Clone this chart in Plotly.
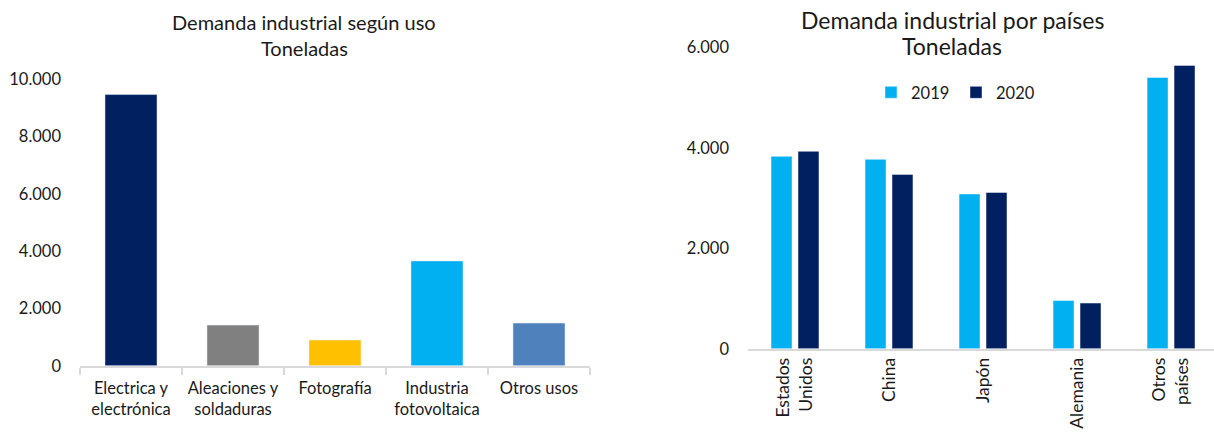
import plotly.graph_objects as go

# ---- Data ----
uso_categories = ["Electrica y<br>electrónica", "Aleaciones y<br>soldaduras", "Fotografía",
                  "Industria<br>fotovoltaica", "Otros usos"]
uso_values = [9470, 1420, 900, 3660, 1490]
uso_colors = ["#002060", "#808080", "#FFC000", "#00B0F0", "#4F81BD"]

paises_categories = ["Estados<br>Unidos", "China", "Japón", "Alemania", "Otros<br>países"]
paises_2019 = [3830, 3770, 3080, 960, 5400]
paises_2020 = [3930, 3470, 3110, 910, 5640]
series_names = ["2019", "2020"]
series_colors = ["#00B0F0", "#002060"]

FONT = "Lato"
TXT = "#1a1a1a"
W, H = 1214, 438


def fy(px):
    """pixel from top -> paper fraction"""
    return 1 - px / H


fig = go.Figure()

fig.add_trace(go.Bar(
    x=uso_categories, y=uso_values, marker_color=uso_colors,
    width=0.51, offset=-0.255, showlegend=False,
    xaxis="x", yaxis="y",
))

fig.add_trace(go.Bar(
    x=paises_categories, y=paises_2019, name=series_names[0],
    marker=dict(color=series_colors[0], line=dict(color="rgba(255,255,255,0.45)", width=1)),
    width=0.223, offset=-0.255, xaxis="x2", yaxis="y2",
))
fig.add_trace(go.Bar(
    x=paises_categories, y=paises_2020, name=series_names[1],
    marker=dict(color=series_colors[1], line=dict(color="rgba(255,255,255,0.45)", width=1)),
    width=0.223, offset=0.032, xaxis="x2", yaxis="y2",
))

axis_line = "#d9d9d9"

fig.update_layout(
    width=W, height=H, autosize=False,
    margin=dict(l=0, r=0, t=0, b=0),
    paper_bgcolor="white", plot_bgcolor="white",
    separators=",.",
    barmode="overlay",
    hovermode=False,
    font=dict(family=FONT, size=16.5, color=TXT),
    showlegend=True,
    legend=dict(orientation="h", x=871 / W, xanchor="left", y=fy(86.5), yanchor="middle",
                font=dict(family=FONT, size=16.5, color=TXT), entrywidth=40,
                bgcolor="rgba(0,0,0,0)", itemclick=False),
    xaxis=dict(domain=[80 / W, 590 / W], type="category", showgrid=False,
               showline=True, linecolor=axis_line, linewidth=2,
               ticks="outside", tickson="boundaries", ticklen=7, tickcolor=axis_line, tickwidth=2,
               ticklabelstandoff=6,
               tickfont=dict(family=FONT, size=16.5, color=TXT), range=[-0.5, 4.5]),
    yaxis=dict(domain=[fy(372.8), fy(72.7)], range=[0, 10000], dtick=2000, tickformat=",",
               showgrid=False, zeroline=False, showline=False, ticks="",
               ticklabelstandoff=18,
               tickfont=dict(family=FONT, size=16.5, color=TXT)),
    xaxis2=dict(domain=[748 / W, 1.0], type="category", showgrid=False,
                showline=True, linecolor=axis_line, linewidth=2, ticks="",
                tickangle=-90, range=[-0.5, 4.457],
                tickfont=dict(family=FONT, size=17.5, color=TXT), anchor="y2"),
    yaxis2=dict(domain=[fy(355), fy(39.1)], range=[0, 6000], dtick=2000, tickformat=",",
                showgrid=False, zeroline=False, showline=False, ticks="",
                ticklabelstandoff=18, anchor="x2",
                tickfont=dict(family=FONT, size=16.5, color=TXT)),
    annotations=[
        dict(text="Demanda industrial según uso", x=304 / W, y=fy(13), xref="paper", yref="paper",
             xanchor="center", yanchor="middle", showarrow=False, font=dict(family=FONT, size=20, color=TXT)),
        dict(text="Toneladas", x=304 / W, y=fy(39.5), xref="paper", yref="paper",
             xanchor="center", yanchor="middle", showarrow=False, font=dict(family=FONT, size=20, color=TXT)),
        dict(text="Demanda industrial por países", x=952 / W, y=fy(10), xref="paper", yref="paper",
             xanchor="center", yanchor="middle", showarrow=False, font=dict(family=FONT, size=23, color=TXT)),
        dict(text="Toneladas", x=952 / W, y=fy(38), xref="paper", yref="paper",
             xanchor="center", yanchor="middle", showarrow=False, font=dict(family=FONT, size=23, color=TXT)),
    ],
)

fig.write_html("out.html", config={"displayModeBar": False},
               post_script="document.body.style.margin='0';")
